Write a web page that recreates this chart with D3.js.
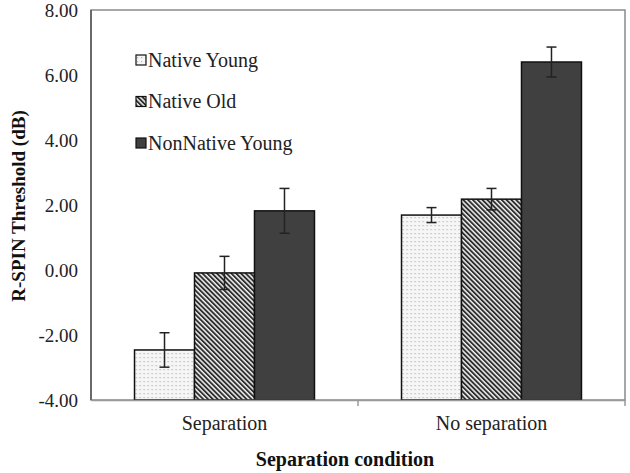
<!DOCTYPE html>
<html><head><meta charset="utf-8">
<script src="https://cdn.jsdelivr.net/npm/d3@7"></script>
<style>body{margin:0;background:#fff} text{font-family:'Liberation Serif','Times New Roman',serif}</style>
</head><body>
<svg id="c" width="630" height="473"></svg>
<script>
const categories = ["Separation", "No separation"];
const seriesNames = ["Native Young", "Native Old", "NonNative Young"];
const nativeYoung = [-2.46, 1.69];
const nativeOld = [-0.09, 2.18];
const nonNativeYoung = [1.82, 6.40];
const errNativeYoung = [0.53, 0.23];
const errNativeOld = [0.51, 0.33];
const errNonNativeYoung = [0.69, 0.46];
const yTicks = [-4, -2, 0, 2, 4, 6, 8];

const svg = d3.select("#c");
const L = 91, R = 625, T = 10, B = 400;
const font = "'Liberation Serif', 'Times New Roman', serif";

const defs = svg.append("defs");
const pd = defs.append("pattern").attr("id","dots").attr("patternUnits","userSpaceOnUse").attr("width",4).attr("height",4);
pd.append("rect").attr("width",4).attr("height",4).attr("fill","#f6f6f6");
pd.append("rect").attr("x",1).attr("y",1).attr("width",1.2).attr("height",1.2).attr("fill","#b4b4b4");
const ph = defs.append("pattern").attr("id","hatch").attr("patternUnits","userSpaceOnUse").attr("width",3.4).attr("height",3.4).attr("patternTransform","rotate(-45)");
ph.append("rect").attr("width",3.4).attr("height",3.4).attr("fill","#f2f2f2");
ph.append("rect").attr("x",0).attr("y",0).attr("width",1.9).attr("height",3.4).attr("fill","#2e2e2e");

const fills = ["url(#dots)", "url(#hatch)", "#404040"];
const vals = [nativeYoung, nativeOld, nonNativeYoung];
const errs = [errNativeYoung, errNativeOld, errNonNativeYoung];

const y = d3.scaleLinear().domain([-4, 8]).range([B, T]);
const x0 = d3.scaleBand().domain(categories).range([L, R]).paddingInner(0.326).paddingOuter(0.163);
const x1 = d3.scaleBand().domain(seriesNames).range([0, x0.bandwidth()]);

// frame
svg.append("rect").attr("x",L).attr("y",T).attr("width",R-L).attr("height",B-T)
  .attr("fill","none").attr("stroke","#8a8a8a").attr("stroke-width",1.5);
svg.append("line").attr("x1",L).attr("x2",L).attr("y1",T).attr("y2",B).attr("stroke","#555").attr("stroke-width",1.5);

// y axis
const fmt = d => d3.format(".2f")(d).replace("\u2212", "-");
const ya = svg.append("g").attr("transform",`translate(${L},0)`)
  .call(d3.axisLeft(y).tickValues(yTicks).tickSize(0).tickPadding(13).tickFormat(fmt));
ya.select(".domain").remove();
ya.selectAll("text").attr("font-family",font).attr("font-size",19).attr("fill","#222");

// bars
const groups = svg.append("g").selectAll("g").data(categories).join("g")
  .attr("transform", d => `translate(${x0(d)},0)`);
seriesNames.forEach((s, si) => {
  groups.append("rect")
    .attr("x", x1(s)).attr("width", x1.bandwidth())
    .attr("y", (d,i) => y(vals[si][i]))
    .attr("height", (d,i) => B - y(vals[si][i]))
    .attr("fill", fills[si]).attr("stroke","#111").attr("stroke-width",1.5);
});
seriesNames.forEach((s, si) => {
  const cx = x1(s) + x1.bandwidth()/2;
  groups.append("line").attr("x1",cx).attr("x2",cx)
    .attr("y1",(d,i)=>y(vals[si][i]+errs[si][i])).attr("y2",(d,i)=>y(vals[si][i]-errs[si][i]))
    .attr("stroke","#222").attr("stroke-width",1.5);
  [1,-1].forEach(sg => {
    groups.append("line").attr("x1",cx-5).attr("x2",cx+5)
      .attr("y1",(d,i)=>y(vals[si][i]+sg*errs[si][i])).attr("y2",(d,i)=>y(vals[si][i]+sg*errs[si][i]))
      .attr("stroke","#222").attr("stroke-width",1.5);
  });
});

// x axis
const xa = svg.append("g").attr("transform",`translate(0,${B})`)
  .call(d3.axisBottom(x0).tickSize(0).tickPadding(16));
xa.select(".domain").attr("stroke","#999").attr("stroke-width",1.5);
xa.selectAll("text").attr("font-family",font).attr("font-size",20).attr("fill","#222");
svg.append("line").attr("x1",(L+R)/2).attr("x2",(L+R)/2).attr("y1",B).attr("y2",B+6).attr("stroke","#999").attr("stroke-width",1.5);
svg.append("line").attr("x1",R).attr("x2",R).attr("y1",B).attr("y2",B+6).attr("stroke","#999").attr("stroke-width",1.5);

// titles
svg.append("text").attr("x",345).attr("y",466).attr("text-anchor","middle")
  .attr("font-family",font).attr("font-size",20).attr("font-weight","bold").attr("fill","#111")
  .text("Separation condition");
svg.append("text").attr("transform",`translate(25,206) rotate(-90)`).attr("text-anchor","middle")
  .attr("font-family",font).attr("font-size",19).attr("font-weight","bold").attr("fill","#111")
  .text("R-SPIN Threshold (dB)");

// legend
const leg = svg.append("g").selectAll("g").data(seriesNames).join("g")
  .attr("transform",(d,i)=>`translate(136,${60 + i*41.5})`);
leg.append("rect").attr("x",0).attr("y",-5).attr("width",10).attr("height",10)
  .attr("fill",(d,i)=>fills[i]).attr("stroke","#111").attr("stroke-width",1.2);
leg.append("text").attr("x",12).attr("y",6.5).attr("font-family",font).attr("font-size",20).attr("fill","#222").text(d=>d);
</script>
</body></html>
